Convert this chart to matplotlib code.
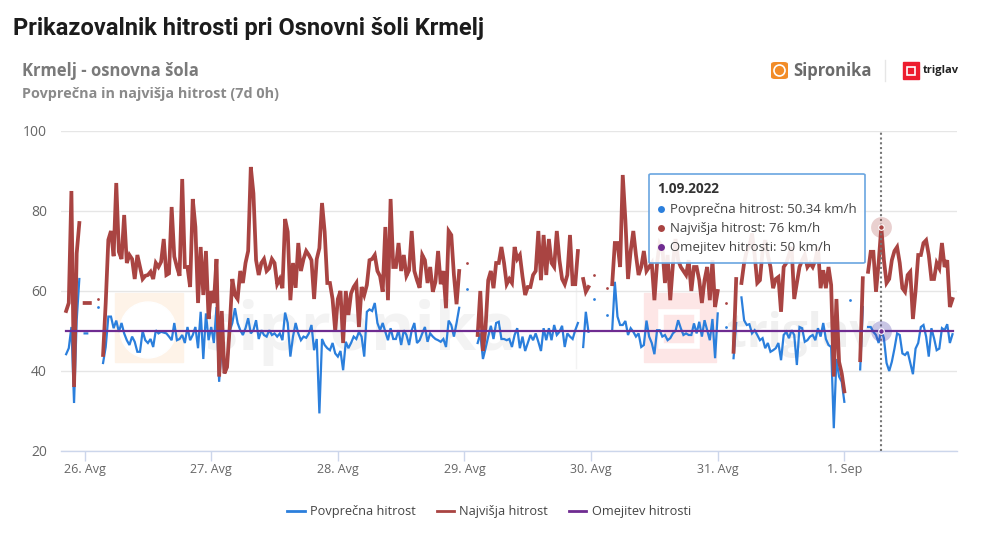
import numpy as np
import pandas as pd
import matplotlib
matplotlib.use('Agg')
import matplotlib.pyplot as plt
import matplotlib.dates as mdates
from matplotlib.lines import Line2D
from matplotlib.patches import Ellipse, FancyBboxPatch, Rectangle

plt.rcParams['font.family'] = ['Open Sans', 'DejaVu Sans']

N = None

# half hour samples, first one is 25 Aug 20:30
start_time = "2022-08-25 20:30"

avg_speed = [
    44.2, 45.7, 51, 32, 52.7, 63, N, 49.4, 49.4, N, N, N, 56, N,
    42, 46, 53.6, 53.6, 50.7, 52.6, 49.8, 52, 49.4, 47.7, 46.5, 48.6, 47.3, 44.8, 44.8, 50,
    47.7, 47, 48, 46, 50.2, 49.4, 49.8, 49.6, 49.4, 48.6, 47.7, 52, 47.7, 48, 49, 47,
    51, 47.7, 49, 51, 45.7, 54.8, 43, 54.4, 47.7,
    51, 47, 56, 37.3, 46, 39.4, 40.7, 50, 52, 55.7, 52, 50.2, 49, 50.7, 53.2, 49.4, 50.2,
    52.7, 48, 50.2, 49, 48.6, 50.2, 49, 49.4, 48.6, 49.4, 47.7, 54.6, 52, 43.6, 48.6, 52,
    49.4, 47.7, 48.6, 48.3, 49.4, 51.5, 45.2, 48, 29.4, 48, 46.5, 45.7, 45.2, 47, 44.4,
    43.6, 45, 40.2, 47.3, 45.7, 47, 48.6, 48, 49.8,
    48.6, 43.6, 54.8, 55.4, 55, 57, 52, 50.2, 52, 49.8, 47.7, 50.7, 48, 48, 50.2, 46.5,
    50.2, 49, 46.5, 50.2, 52, 47, 47.7, 49.4, 51, 47.3, 49.4, 48.6, 48, 47.7, 47.3, 48,
    46, 52.6, 51.5, 48.6, 52, 55.8, N, N, 60.4, N, N, N,
    47, 49.4, 43, 45.7, 48.6, 51.3, 48, 52, 52.3, 48, 48, 47.7, 48,
    46, 49, 50.7, 45.7, 48.6, 45, 47, 49, 47.7, 49.4, 47.3, 45, 50.7, 47.7, 50.7, 47.7,
    51.5, 49, 49.8, 51.3, 46, 49.4, 48.6, 48, 50.2, 52, N,
    46, 54.8, 49.8, N, 58, N, N, N, N, 54, N,
    50.2, 62.3, 53.6, 51.5, 51.5, 52.5, 49, 50.7, 49.8, 48.6, 49.4, 46, 46.5, 52.6, 48.6,
    47, 44.2, 50.2, 50.2, 48.6, 49, 47.7, 48.2, 49.4, 50, 52.7, 50.7, 49, 49.4, 49, 49,
    51.9, 49.4, 52.3, 48.6, 52.7, 50.2, 47.7, 53, 43.2, 54.4, N, N, 51, N, N,
    43.2, 52, N, 58.4, 52.7, 51.5, 51.7, 49.4, 50.2, 49, 47.7, 48.2, 45.7, 47, 44.8, 45.2,
    45.7, 47, 42.7, 49, 49.8, 48.2, 50.2, 49, 41.5, 51, 50.7, 47.3, 47.7, 48.6,
    49, 47.7, 50.7, 48.6, 52, 48, 46.5, 46, 25.7, 43, 38.6, 37.3, 32.3, N, 57.7, N, N, N,
    40.4, 56, N,
    51, 51, 49.8, 49, 47, 50.34, 48.2, 42, 40, 42.3, 45.6, 49.4, 49, 44.4, 44, 44.8, 42,
    39.2, 45.6, 47, 51, 51.5, 48.6, 43.6, 50.7, 48.2, 45.2, 45.6, 50.7, 50.2, 51.7, 47, 49.2,
]

max_speed = [
    55, 57, 85, 36, 69.4, 77, N, 57, 57, 57, N, N, 58, N,
    44, 57, 72.8, 75, 68.7, 87, 69.8, 68, 79, 67, 69, 68, 63, 69, 66, 63,
    63.8, 64, 64.8, 63, 67, 66, 67.3, 73, 64, 64.4, 81, 68.6, 66, 63.8, 88, 66,
    66, 61, 83, 76, 57, 71, 59, 70, 53,
    60, 57, 68, 38.6, 55, 39.4, 41, 51, 63, 59, 58, 65, 62, 67, 70, 91, 84.4,
    67.7, 64, 67, 68, 65, 65.7, 68, 67, 61.7, 63, 60.7, 78, 74.8, 57.7, 67, 60.8,
    72, 65, 68, 70, 69, 67.7, 58, 68, 70.7, 82, 74.8, 62, 62, 58, 50,
    58, 60, 47, 60, 54, 59.4, 61, 62, 51,
    61, 59, 61.5, 67.7, 68, 69, 65, 63.7, 59.8, 76, 57.7, 83, 66, 66, 72, 65,
    69, 63.8, 65.2, 75, 65, 62.7, 60.8, 69, 67.7, 62, 66, 59.8, 62.3, 70, 61.7, 65,
    55.7, 75, 74, 64, 56.7, 65, N, N, 67, N, N, N,
    49, 60, 45, 51, 62.7, 65, 60.7, 67, 67, 71, 67, 61.7, 63,
    62, 71, 68, 69, 63.6, 59, 61, 61, 64, 65, 75, 62.7, 74, 64, 73,
    67, 66, 75, 67.7, 63, 61.7, 64, 74, 61.7, 61.7, 70, N,
    63, 59.8, 61, N, 64, N, N, N, N, 60.8, N,
    61.7, 72, 72, 66, 89, 77.7, 63, 70, 75, 69, 64, 66, 70, 65, 66,
    67, 57.7, 67, 72, 71, 62, 69, 57.7, 66.5, 73, 67.7, 66, 65, 64, 67.7, 60,
    66, 66, 62.7, 57, 62.7, 66, 57.7, 67.7, 56, 60, N, N, 57, N, N,
    44.8, 63, N, 62, 67, 70, 71, 74.4, 69, 62, 62.7, 70, 72.7, 69, 66, 60.7,
    63, 63.5, 54.8, 66, 67, 69, 71, 58, 62, 66, 67.7, 69, 66, 67,
    66, 67.7, 71, 60.7, 65.2, 60.7, 66, 61.5, 38.6, 58, 42.3, 39.4, 34.9, N, N, N, N, N,
    42.7, 63.2, N,
    64.8, 69.8, 69.8, 59.8, 67, 76, 67.7, 62, 63, 67.7, 70, 71, 67, 60.7, 59.8, 64, 64.8,
    53, 60, 69, 69, 72, 72.7, 69, 63, 63, 67, 65.7, 72, 66, 67.7, 56, 58,
]

speed_limit = 50

series_names = ["Povprečna hitrost", "Najvišja hitrost", "Omejitev hitrosti"]
series_colors = ["#2b7fdc", "#a94442", "#6f2c91"]

y_ticks = [20, 40, 60, 80, 100]
x_tick_days = ["2022-08-26", "2022-08-27", "2022-08-28", "2022-08-29",
               "2022-08-30", "2022-08-31", "2022-09-01"]
x_tick_labels = ["26. Avg", "27. Avg", "28. Avg", "29. Avg", "30. Avg", "31. Avg", "1. Sep"]

hover_time = "2022-09-01 07:00"
hover_date = "1.09.2022"
hover_avg = 50.34
hover_max = 76


def fig_xy(px, py):
    # picture pixels to figure fraction
    return px / 1000, 1 - py / 533


fig = plt.figure(figsize=(10, 5.33), dpi=100)
x0, y1 = fig_xy(61, 451)
ax = fig.add_axes([x0, y1, 896 / 1000, 320 / 533])
ax.set_zorder(1)
ax.patch.set_alpha(0)

n = max(len(avg_speed), len(max_speed))
times = pd.date_range(start_time, periods=n, freq="30min")
avg_arr = np.array(avg_speed + [N] * (n - len(avg_speed)), dtype=float)
max_arr = np.array(max_speed + [N] * (n - len(max_speed)), dtype=float)

# watermark behind the lines
wm = fig.transFigure
fx, fy = fig_xy(115, 362)
fig.add_artist(Rectangle((fx, fy), 68 / 1000, 69 / 533, transform=wm, color="#fef3e8", zorder=0))
fx, fy = fig_xy(148, 330)
fig.add_artist(Ellipse((fx, fy), 56 / 1000, 56 / 533, transform=wm, color="white", zorder=0.1))
fx, fy = fig_xy(644, 362)
fig.add_artist(Rectangle((fx, fy), 72 / 1000, 69 / 533, transform=wm, color="#fde6e6", zorder=0))
fx, fy = fig_xy(661, 346)
fig.add_artist(Rectangle((fx, fy), 36 / 1000, 34 / 533, transform=wm, fc="none", ec="white", lw=4, zorder=0.1))
fx, fy = fig_xy(205, 350)
fig.text(fx, fy, "sipronika", fontsize=48, fontweight="bold", color="#f3f3f3", zorder=0, va="baseline")
fx, fy = fig_xy(727, 347)
fig.text(fx, fy, "triglav", fontsize=33, fontweight="bold", color="#f0f0f0", zorder=0, va="baseline")
fig.add_artist(Line2D([576 / 1000, 576 / 1000], [1 - 288 / 533, 1 - 368 / 533], color="#f3f3f3", lw=1, transform=wm, zorder=0))


def draw_series(values, color, lw, z):
    ax.plot(times, values, color=color, lw=lw, zorder=z, solid_joinstyle="miter")
    # samples with empty neighbours are only small dots
    for i, v in enumerate(values):
        if np.isnan(v):
            continue
        left = np.isnan(values[i - 1]) if i > 0 else True
        right = np.isnan(values[i + 1]) if i < n - 1 else True
        if left and right:
            ax.plot([times[i]], [v], "o", ms=2, color=color, mew=0, zorder=z)


draw_series(avg_arr, series_colors[0], 1.6, 3)
draw_series(max_arr, series_colors[1], 2.7, 4)
ax.plot([times[0], times[-1]], [speed_limit, speed_limit], color=series_colors[2], lw=1.6, zorder=5)

# hover state
hover = pd.Timestamp(hover_time)
ax.axvline(hover, color="#777777", lw=1.5, ls=(0, (1, 1.3)), zorder=6)
ax.plot([hover], [hover_max], "o", ms=15, color=series_colors[1], alpha=0.25, mew=0, zorder=6)
ax.plot([hover], [hover_max], "o", ms=4, color=series_colors[1], mec="white", mew=0.8, zorder=7)
ax.plot([hover], [speed_limit], "o", ms=15, color="#4b3fa8", alpha=0.3, mew=0, zorder=6)
ax.plot([hover], [speed_limit], "o", ms=4, color=series_colors[2], mec="white", mew=0.8, zorder=7)

ax.set_ylim(20, 100)
ax.set_yticks(y_ticks)
slot = pd.Timedelta(minutes=30)
day0 = pd.Timestamp(x_tick_days[0])
px_per_slot = 2.638
ax.set_xlim(day0 + slot * ((61 - 84.6) / px_per_slot), day0 + slot * ((957 - 84.6) / px_per_slot))
ax.set_xticks([mdates.date2num(pd.Timestamp(d)) for d in x_tick_days])
ax.set_xticklabels(x_tick_labels)
ax.grid(axis="y", color="#e6e6e6", lw=1)
ax.set_axisbelow(True)
for s in ["top", "right", "left"]:
    ax.spines[s].set_visible(False)
ax.spines["bottom"].set_color("#ccd6eb")
ax.spines["bottom"].set_linewidth(1)
ax.tick_params(axis="y", length=0, pad=10, labelsize=10, labelcolor="#666666")
ax.tick_params(axis="x", length=7, width=1, color="#ccd6eb", pad=1.5, labelsize=9, labelcolor="#666666")

# tooltip
fx, fy = fig_xy(649, 263)
tip = FancyBboxPatch((fx, fy), 216 / 1000, 89 / 533, boxstyle="round,pad=0,rounding_size=0.002",
                     transform=wm, fc=(1, 1, 1, 0.9), ec="#6aa5e0", lw=1.2, zorder=8)
fig.add_artist(tip)
fx, fy = fig_xy(657, 189)
fig.text(fx, fy, hover_date, fontsize=9.8, fontweight="bold", color="#333333", va="center", zorder=9)
rows = [f"{series_names[0]}: {hover_avg} km/h", f"{series_names[1]}: {hover_max} km/h",
        f"{series_names[2]}: {speed_limit} km/h"]
for py, text, color in zip([209, 228, 247], rows, series_colors):
    fx, fy = fig_xy(661, py)
    fig.add_artist(Line2D([fx], [fy], marker="o", ms=5, color=color, mew=0, transform=wm, zorder=9))
    fx, fy = fig_xy(670, py)
    fig.text(fx, fy, text, fontsize=9.5, color="#444444", va="center", zorder=9)

# headings
fx, fy = fig_xy(13, 28)
fig.text(fx, fy, "Prikazovalnik hitrosti pri Osnovni šoli Krmelj", fontsize=17, fontweight="bold",
         family=["Roboto", "DejaVu Sans"], color="#1c1c1c", va="center")
fx, fy = fig_xy(22, 71)
fig.text(fx, fy, "Krmelj - osnovna šola", fontsize=12, fontweight="bold", color="#7a7a7a", va="center")
fx, fy = fig_xy(22, 94)
fig.text(fx, fy, "Povprečna in najvišja hitrost (7d 0h)", fontsize=10.4, fontweight="bold", color="#8a8a8a", va="center")

# logos
fx, fy = fig_xy(771, 79)
fig.add_artist(FancyBboxPatch((fx, fy), 17 / 1000, 17 / 533, boxstyle="round,pad=0,rounding_size=0.004",
                              transform=wm, fc="#f28c28", ec="none"))
fx, fy = fig_xy(779.5, 70.5)
fig.add_artist(Ellipse((fx, fy), 11 / 1000, 11 / 533, transform=wm, fc="none", ec="white", lw=1.2))
fx, fy = fig_xy(793, 71)
fig.text(fx, fy, "Sipronika", fontsize=12, fontweight="bold", color="#6a6a6a", va="center")
fig.add_artist(Line2D([885 / 1000, 885 / 1000], [1 - 60 / 533, 1 - 81 / 533], color="#e6e6e6", lw=1, transform=wm))
fx, fy = fig_xy(903, 79)
fig.add_artist(Rectangle((fx, fy), 16 / 1000, 17 / 533, transform=wm, color="#ed1c2e"))
fx, fy = fig_xy(907, 75)
fig.add_artist(Rectangle((fx, fy), 8 / 1000, 8 / 533, transform=wm, fc="none", ec="white", lw=1.2))
fx, fy = fig_xy(923, 71)
fig.text(fx, fy, "triglav", fontsize=8, fontweight="bold", color="#222222", va="center")

# legend
handles = [Line2D([], [], color=c, lw=2) for c in series_colors]
fig.legend(handles, series_names, loc="center", bbox_to_anchor=fig_xy(489, 512), ncol=3, frameon=False,
           fontsize=9.15, labelcolor="#444444", handlelength=1.36, handletextpad=0.4, columnspacing=1.68)

fig.savefig("out.png", dpi=100)
